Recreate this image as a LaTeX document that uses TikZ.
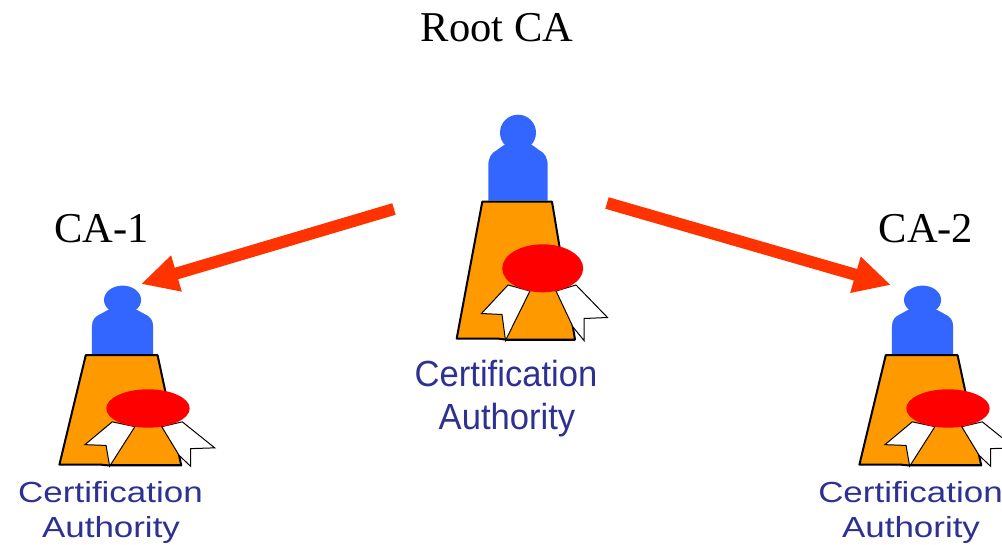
\documentclass[tikz,border=0pt]{standalone}
\usepackage{fontspec}
\setmainfont{Liberation Serif}
\newfontfamily\casans{Liberation Sans}
\usetikzlibrary{arrows.meta}
\definecolor{cablue}{HTML}{3366FF}
\definecolor{caorange}{HTML}{FF9900}
\definecolor{caarrow}{HTML}{FF3300}
\definecolor{catext}{HTML}{2E3192}
\tikzset{
  x=1pt,y=-1pt,
  title/.style={font=\fontsize{42.5}{42.5}\selectfont,anchor=base,inner sep=0pt,text=black},
  captiontext/.style={font=\casans\fontsize{34.6}{34.6}\selectfont,anchor=base,inner sep=0pt,text=catext},
  link/.style={draw=caarrow,line width=12pt,-{Triangle[length=37pt,width=35pt]}},
}
\newcommand{\smallcaption}[1]{\scalebox{1.01}[.84]{#1}}
\newcommand{\rootcaption}[1]{\scalebox{1}[1.05]{#1}}
\newcommand{\CAicon}[4]{%
\begin{scope}[xshift=#1pt,yshift=-#2pt,xscale=#3,yscale=#4]
  \fill[cablue] (488.3,200.5) -- (488.3,166) .. controls (488.3,158) and (491,153) .. (497,150)
     -- (504,145) -- (532,145) -- (539,150) .. controls (545,153) and (547.7,158) .. (547.7,166) -- (547.7,200.5) -- cycle;
  \fill[cablue] (518,132.7) ellipse [x radius=18,y radius=18];
  \draw[fill=caorange,line width=2pt,line join=round] (482.3,201.7) -- (552,201.7) -- (575,339.5)
     -- (505,339.5) -- (497,338.5) -- (456.7,338.5) -- cycle;
  \draw[fill=white,line width=1pt,line join=miter] (508,285) -- (481.5,313.5) -- (502,314.5) -- (505.5,340.5) -- (530,291) -- cycle;
  \draw[fill=white,line width=1pt,line join=miter] (576,285) -- (607.5,317.5) -- (584,318.5) -- (584,340.5) -- (573,327) -- (556,291) -- cycle;
  \draw[line width=2pt] (505.5,339.5) -- (575,339.5);
  \fill[red] (542.7,268.3) ellipse [x radius=40.5,y radius=24];
\end{scope}}
\begin{document}
\begin{tikzpicture}
\clip (0,0) rectangle (1002,544);
\fill[white] (0,0) rectangle (1002,544);

\CAicon{0}{0}{1}{1}
\CAicon{-411}{193.84}{1.03}{.8}
\CAicon{389}{193.84}{1.03}{.8}

\node[title] (rootlabel) at (497,41) {Root CA};
\node[title] (calabel1) at (101.5,242.5) {CA-1};
\node[title] (calabel2) at (926,242.5) {CA-2};

\node[captiontext] (rootcap1) at (506,386.5) {\rootcaption{Certification}};
\node[captiontext] (rootcap2) at (507,429.5) {\rootcaption{Authority}};
\node[captiontext] (lcap1) at (110.5,502.5) {\smallcaption{Certification}};
\node[captiontext] (lcap2) at (111,537) {\smallcaption{Authority}};
\node[captiontext] (rcap1) at (910.5,502.5) {\smallcaption{Certification}};
\node[captiontext] (rcap2) at (911,537) {\smallcaption{Authority}};

\coordinate (rootl) at (394,209);
\coordinate (rootr) at (607,203);
\coordinate (ca1) at (141,284);
\coordinate (ca2) at (891,285);
\draw[link] (rootl) -- (ca1);
\draw[link] (rootr) -- (ca2);
\end{tikzpicture}
\end{document}
